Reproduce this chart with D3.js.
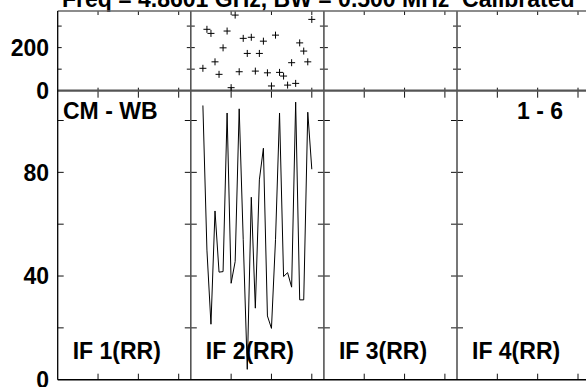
<!DOCTYPE html>
<html>
<head>
<meta charset="utf-8">
<script src="https://cdn.jsdelivr.net/npm/d3@7"></script>
<style>
  body { margin: 0; background: #fff; }
  text { font-family: "Liberation Sans", Arial, sans-serif; font-weight: bold; }
</style>
</head>
<body>
<div id="chart"></div>
<script>
// panels (one per IF) and the data of IF 2
const panelNames = ["IF 1(RR)", "IF 2(RR)", "IF 3(RR)", "IF 4(RR)"];
const channels = [3, 4, 5, 6, 7, 8, 9, 10, 11, 12, 13, 14, 15, 16, 17, 18, 19, 20, 21, 22, 23, 24, 25, 26, 27, 28, 29, 30];
const phaseIF2 = [104, 285, 266, 134, 76, 199, 277, 14, 351, 88, 243, 173, 248, 91, 173, 230, 83, 22, 258, 85, 68, 26, 130, 34, 222, 184, 134, 331];
const ampIF2 = [105.8, 50, 21.4, 65.1, 41.5, 41.7, 102.9, 37.2, 45.6, 104.5, 54, 4, 70.4, 27.6, 77.1, 89.3, 24.6, 19.8, 54, 102.9, 39.8, 41.3, 35.7, 107.1, 30.8, 30.8, 103.2, 81.2];
const chanTicks = [10, 20, 30];
const phaseTicks = [100, 200, 300];
const phaseLabels = [0, 200];
const ampTicks = [20, 40, 60, 80, 100];
const ampLabels = [0, 40, 80];

(function() {
const W = 586, H = 387;
const padL = 57.7, panelW = 133.1, yTop = 11, yMid = 90.7, yBot = 379.7;

const svg = d3.select("#chart").append("svg")
    .attr("width", W)
    .attr("height", H);

// one x scale per panel
const xs = panelNames.map((n, i) => d3.scaleLinear()
    .domain([0, 33])
    .range([padL + i * panelW, padL + (i + 1) * panelW]));

const yPh = d3.scaleLinear().domain([0, 370]).range([yMid, yTop]);
const yAmp = d3.scaleLinear().domain([0, 111.5]).range([yBot, yMid]);

// title, cut at top of the picture
svg.append("text")
    .attr("x", 62).attr("y", 6.5)
    .style("font-size", "23px")
    .style("white-space", "pre")
    .text("Freq = 4.8601 GHz, BW = 0.500 MHz  Calibrated");

const frame = svg.append("g");

// ticks along channel axis, each panel
xs.forEach(x => {
    chanTicks.forEach(c => {
        const px = x(c);
        frame.append("line").attr("x1", px).attr("x2", px).attr("y1", yTop).attr("y2", yTop + 4);
        frame.append("line").attr("x1", px).attr("x2", px).attr("y1", yMid - 3).attr("y2", yMid + 7);
        frame.append("line").attr("x1", px).attr("x2", px).attr("y1", yBot - 6).attr("y2", yBot);
    });
});

// ticks on left axis and panel separators
xs.forEach((x, i) => {
    const px = x.range()[0];
    const inL = i === 0 ? 0 : 4, inL2 = i === 0 ? 0 : 6;
    phaseTicks.forEach(p => {
        frame.append("line").attr("x1", px - inL).attr("x2", px + 4).attr("y1", yPh(p)).attr("y2", yPh(p));
    });
    ampTicks.forEach(a => {
        frame.append("line").attr("x1", px - inL2).attr("x2", px + 6).attr("y1", yAmp(a)).attr("y2", yAmp(a));
    });
});
frame.selectAll("line").attr("stroke", "#111").attr("stroke-width", 1);

// panel separators
xs.slice(1).forEach(x => {
    svg.append("line")
        .attr("x1", x.range()[0]).attr("x2", x.range()[0])
        .attr("y1", yTop).attr("y2", yBot)
        .attr("stroke", "#555").attr("stroke-width", 1.6);
});

// top border, middle line, bottom axis, left axis
svg.append("line").attr("x1", padL).attr("x2", W).attr("y1", yTop).attr("y2", yTop)
    .attr("stroke", "#666").attr("stroke-width", 1.5);
svg.append("line").attr("x1", padL).attr("x2", W).attr("y1", yMid).attr("y2", yMid)
    .attr("stroke", "#555").attr("stroke-width", 2.2);
svg.append("line").attr("x1", padL).attr("x2", W).attr("y1", yBot).attr("y2", yBot)
    .attr("stroke", "#000").attr("stroke-width", 1.5);
svg.append("line").attr("x1", padL).attr("x2", padL).attr("y1", yTop).attr("y2", yBot)
    .attr("stroke", "#000").attr("stroke-width", 1.3);

// y labels
const labels = svg.append("g").attr("text-anchor", "end").style("font-size", "23px");
phaseLabels.forEach(p => {
    labels.append("text").attr("x", 49).attr("y", yPh(p)).attr("dy", "0.36em").text(p);
});
ampLabels.forEach(a => {
    labels.append("text").attr("x", 49).attr("y", yAmp(a)).attr("dy", "0.36em").text(a);
});

// phase points of IF 2 as "+" marks
const x2 = xs[1];
const marks = svg.append("g").attr("stroke", "#000").attr("stroke-width", 1);
channels.forEach((c, i) => {
    const px = x2(c), py = yPh(phaseIF2[i]);
    marks.append("path").attr("d", `M${px - 3.5},${py}H${px + 3.5}M${px},${py - 3.5}V${py + 3.5}`);
});

// amplitude line of IF 2
svg.append("path")
    .datum(channels.map((c, i) => [c, ampIF2[i]]))
    .attr("fill", "none")
    .attr("stroke", "#000")
    .attr("stroke-width", 1)
    .attr("d", d3.line().x(d => x2(d[0])).y(d => yAmp(d[1])));

// panel texts
svg.append("text").attr("x", 63).attr("y", 119.3).style("font-size", "23px").text("CM - WB");
svg.append("text").attr("x", 563).attr("y", 119.3).attr("text-anchor", "end").style("font-size", "23px").text("1 - 6");
xs.forEach((x, i) => {
    svg.append("text")
        .attr("x", x.range()[0] + 15).attr("y", 359)
        .style("font-size", "23px")
        .text(panelNames[i]);
});
})();
</script>
</body>
</html>
